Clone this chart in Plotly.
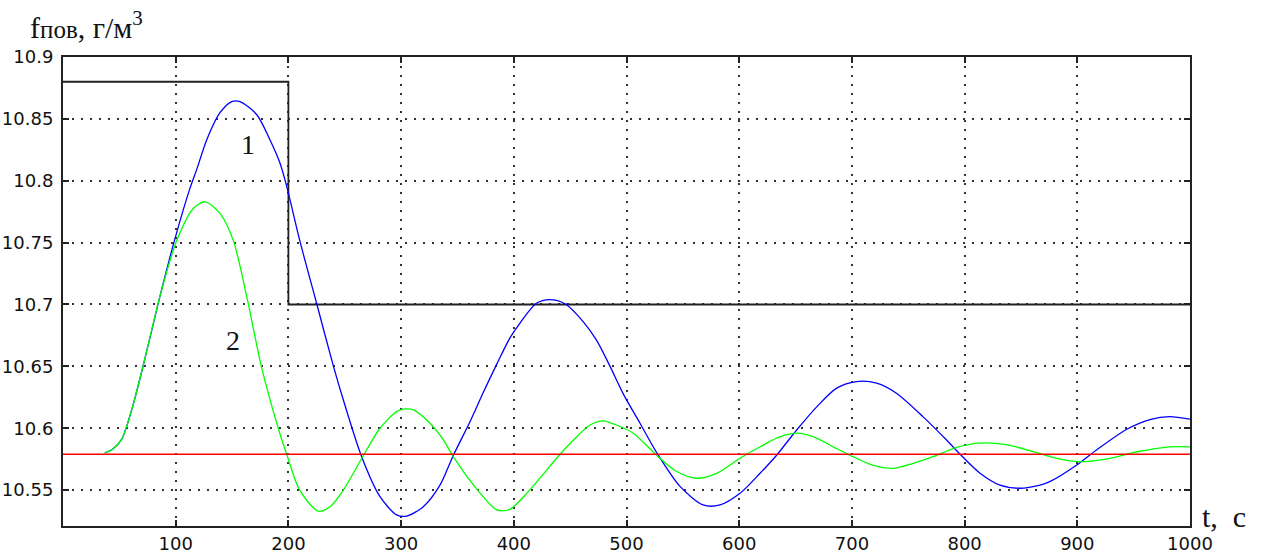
import plotly.graph_objects as go

# ---- data ----
t_blue = [37, 44, 52, 61, 71, 86, 99, 112.7, 118.6, 127.5, 139.3, 149.7, 157, 171.8, 183.7, 192.5,
          198.5, 210, 225, 240, 248.7, 265, 281.3, 296, 305, 319.7, 334.5, 346.3, 361, 373, 385,
          396.6, 405.5, 420, 432, 445.4, 461.7, 473.5, 485.4, 497, 512, 527, 547.5, 568, 583, 600.7,
          618.5, 633, 651, 669, 686.5, 704, 722, 739.5, 763, 784, 796, 813.7, 831.4, 849, 867, 876,
          899.5, 917, 943.6, 964.5, 982, 1000]
f_blue = [10.580, 10.583, 10.591, 10.615, 10.650, 10.7065, 10.752, 10.794, 10.809, 10.833, 10.855,
          10.864, 10.864, 10.8535, 10.833, 10.8144, 10.7955, 10.752, 10.701, 10.650, 10.623, 10.577,
          10.5447, 10.530, 10.529, 10.5366, 10.554, 10.578, 10.605, 10.629, 10.652, 10.673, 10.685,
          10.701, 10.704, 10.7006, 10.686, 10.671, 10.650, 10.628, 10.604, 10.580, 10.553, 10.538,
          10.538, 10.5474, 10.5636, 10.578, 10.5986, 10.6175, 10.6324, 10.6377, 10.6364, 10.6283,
          10.6094, 10.5905, 10.579, 10.5636, 10.554, 10.5515, 10.554, 10.557, 10.5703, 10.5824,
          10.599, 10.607, 10.6094, 10.6073]

t_green = [37, 44, 52, 61, 71, 86, 101, 116, 126, 139, 151, 163, 176, 191, 198.5, 210, 226.5, 237,
           248.7, 266.5, 281.3, 296, 303, 311, 325.6, 337.5, 346.3, 367, 385, 396.5, 414, 441, 453,
           467.6, 479.4, 491, 506, 527, 544.5, 562, 580, 600.7, 618.5, 636, 651, 666, 683.5, 701,
           719, 737, 754.5, 772, 793, 813, 837, 864, 882, 902, 929, 953, 982, 1000]
f_green = [10.580, 10.583, 10.591, 10.615, 10.650, 10.7065, 10.752, 10.778, 10.783, 10.774, 10.752,
           10.7065, 10.650, 10.600, 10.579, 10.550, 10.533, 10.5366, 10.550, 10.578, 10.600, 10.6134,
           10.6156, 10.6148, 10.604, 10.5906, 10.577, 10.551, 10.534, 10.5345, 10.550, 10.579,
           10.5905, 10.6026, 10.606, 10.6026, 10.596, 10.578, 10.565, 10.5596, 10.5636, 10.5757,
           10.585, 10.593, 10.596, 10.593, 10.585, 10.577, 10.570, 10.5676, 10.5717, 10.577,
           10.5846, 10.588, 10.5868, 10.5803, 10.5757, 10.573, 10.5757, 10.581, 10.585, 10.585]

t_step = [0, 200, 200, 1000]
f_step = [10.88, 10.88, 10.70, 10.70]

t_ref = [0, 1000]
f_ref = [10.579, 10.579]

x_ticks = [100, 200, 300, 400, 500, 600, 700, 800, 900, 1000]
y_ticks = [10.55, 10.6, 10.65, 10.7, 10.75, 10.8, 10.85, 10.9]
y_ticklabels = ["10.55", "10.6", "10.65", "10.7", "10.75", "10.8", "10.85", "10.9"]

fig = go.Figure()
fig.add_trace(go.Scatter(x=t_step, y=f_step, mode="lines",
                         line=dict(color="#222222", width=1.8), hoverinfo="skip"))
fig.add_trace(go.Scatter(x=t_blue, y=f_blue, mode="lines",
                         line=dict(color="#0000ff", width=1.3, shape="spline", smoothing=0.8)))
fig.add_trace(go.Scatter(x=t_green, y=f_green, mode="lines",
                         line=dict(color="#00ff00", width=1.3, shape="spline", smoothing=0.8)))
fig.add_trace(go.Scatter(x=t_ref, y=f_ref, mode="lines",
                         line=dict(color="#ff0000", width=1.5)))

axis_common = dict(
    showline=True, linecolor="#222222", linewidth=2, mirror="ticks",
    ticks="inside", ticklen=6, tickwidth=1.5, tickcolor="#222222",
    showgrid=True, gridcolor="#333333", gridwidth=1.7, griddash="2px,7px",
    zeroline=False, automargin=False,
    tickfont=dict(family="DejaVu Sans, Verdana", size=18, color="#111111"),
)

fig.update_xaxes(range=[0, 1000], tickvals=x_ticks, **axis_common)
fig.update_yaxes(range=[10.521, 10.9], tickvals=y_ticks, ticktext=y_ticklabels,
                 ticklabelstandoff=4, **axis_common)

W, H = 1262, 556
L, R, T, B = 63, 72, 57, 30
PW, PH = W - L - R, H - T - B

serif = "Liberation Serif, Times New Roman, serif"
labels = [
    ("f<span style='font-size:25px'>пов</span>, г/м<sup>3</sup>", 28, 25, "left", 30),
    ("t,\u00a0 c", 1224, 516, "center", 30),
    ("1", 248, 144, "center", 28),
    ("2", 233, 340, "center", 28),
]
ann_objs = []
for text, sx, sy, xa, fs in labels:
    ann_objs.append(dict(
        text=text, xref="paper", yref="paper",
        x=(sx - L) / PW, y=1 - (sy - T) / PH,
        xanchor=xa, yanchor="middle", showarrow=False,
        font=dict(family=serif, size=fs, color="#111111")))

fig.update_layout(
    width=W, height=H,
    margin=dict(l=L, r=R, t=T, b=B),
    paper_bgcolor="white", plot_bgcolor="white",
    showlegend=False,
    annotations=ann_objs,
)

fig.write_html("out.html", config={"displayModeBar": False},
               post_script="document.body.style.margin='0px';")
